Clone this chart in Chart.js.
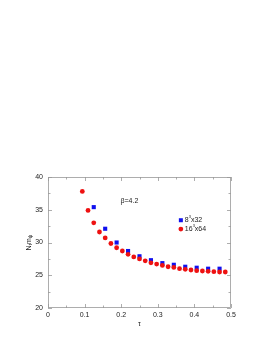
<!DOCTYPE html>
<html>
<head>
<meta charset="utf-8">
<script src="https://cdn.jsdelivr.net/npm/chart.js@4.4.1/dist/chart.umd.min.js"></script>
<style>
  html, body { margin: 0; padding: 0; background: #fff; }
  #wrap { width: 278px; height: 360px; }
</style>
</head>
<body>
<div id="wrap"><canvas id="myGraph" width="278" height="360"></canvas></div>
<script>
// tau = t / Nt
const tauSmall = [0.125, 0.15625, 0.1875, 0.21875, 0.25, 0.28125, 0.3125, 0.34375, 0.375, 0.40625, 0.4375, 0.46875];
const mSmall = [35.4, 32.1, 30.0, 28.7, 27.9, 27.3, 26.85, 26.6, 26.3, 26.15, 26.0, 26.0];

const tauLarge = [0.09375, 0.109375, 0.125, 0.140625, 0.15625, 0.171875, 0.1875, 0.203125, 0.21875, 0.234375,
    0.25, 0.265625, 0.28125, 0.296875, 0.3125, 0.328125, 0.34375, 0.359375, 0.375, 0.390625,
    0.40625, 0.421875, 0.4375, 0.453125, 0.46875, 0.484375];
const mLarge = [37.8, 34.9, 33.0, 31.6, 30.7, 29.85, 29.2, 28.7, 28.2, 27.8,
    27.5, 27.2, 26.9, 26.7, 26.5, 26.3, 26.2, 26.0, 25.9, 25.8,
    25.7, 25.65, 25.6, 25.55, 25.5, 25.5];

const xTicks = [0, 0.1, 0.2, 0.3, 0.4, 0.5];
const yTicks = [20, 25, 30, 35, 40];

const font = '"Liberation Sans", Arial, sans-serif';

function toPoints(xs, ys) {
    return xs.map((x, i) => ({ x: x, y: ys[i] }));
}

// frame, inward ticks, labels
const framePlugin = {
    id: 'frame',
    afterDraw(chart) {
        const ctx = chart.ctx;
        const a = chart.chartArea;
        const xs = chart.scales.x;
        const ys = chart.scales.y;
        ctx.save();
        ctx.strokeStyle = '#999';
        ctx.lineWidth = 0.8;
        ctx.strokeRect(a.left + 0.5, a.top + 0.5, a.right - a.left - 1, a.bottom - a.top - 1);
        ctx.beginPath();
        for (let v = 0; v <= 0.5001; v += 0.05) {
            const px = Math.round(xs.getPixelForValue(v)) + 0.5;
            const big = Math.abs(v * 10 - Math.round(v * 10)) < 1e-6;
            const len = big ? 4 : 2.5;
            ctx.moveTo(px, a.bottom);
            ctx.lineTo(px, a.bottom - len);
            ctx.moveTo(px, a.top);
            ctx.lineTo(px, a.top + len);
        }
        for (let v = 20; v <= 40.001; v += 2.5) {
            const py = Math.round(ys.getPixelForValue(v)) + 0.5;
            const big = v % 5 === 0;
            const len = big ? 4 : 2.5;
            ctx.moveTo(a.left, py);
            ctx.lineTo(a.left + len, py);
            ctx.moveTo(a.right, py);
            ctx.lineTo(a.right - len, py);
        }
        ctx.stroke();

        ctx.fillStyle = '#222';
        ctx.font = '7px ' + font;
        ctx.textAlign = 'center';
        ctx.textBaseline = 'middle';
        ctx.fillText('\u03c4', xs.getPixelForValue(0.25), a.bottom + 16);

        // y title N_t m_psi
        ctx.save();
        ctx.translate(a.left - 19, ys.getPixelForValue(30));
        ctx.rotate(-Math.PI / 2);
        ctx.textAlign = 'left';
        const parts = [['N', 0], ['t', 1], ['m', 0], ['\u03c8', 1]];
        let w = 0;
        parts.forEach(p => {
            ctx.font = (p[1] ? '5px ' : '7px ') + font;
            w += ctx.measureText(p[0]).width;
        });
        let cx = -w / 2;
        parts.forEach(p => {
            ctx.font = (p[1] ? '5px ' : '7px ') + font;
            ctx.fillText(p[0], cx, p[1] ? 2 : 0);
            cx += ctx.measureText(p[0]).width;
        });
        ctx.restore();

        // beta label
        ctx.textAlign = 'left';
        ctx.font = '7px ' + font;
        ctx.fillText('\u03b2=4.2', xs.getPixelForValue(0.198), ys.getPixelForValue(36.3));

        // legend
        const lx = xs.getPixelForValue(0.363);
        const ly1 = ys.getPixelForValue(33.4);
        const ly2 = ys.getPixelForValue(32.05);
        ctx.fillStyle = '#1010ee';
        ctx.fillRect(lx - 2, ly1 - 2, 4, 4);
        ctx.fillStyle = '#ee1111';
        ctx.beginPath();
        ctx.arc(lx, ly2, 2.4, 0, Math.PI * 2);
        ctx.fill();
        ctx.fillStyle = '#222';
        function sup(txt, base, rest, x, y) {
            ctx.font = '7px ' + font;
            ctx.fillText(base, x, y);
            let x2 = x + ctx.measureText(base).width;
            ctx.font = '4px ' + font;
            ctx.fillText(txt, x2, y - 3);
            x2 += ctx.measureText(txt).width;
            ctx.font = '7px ' + font;
            ctx.fillText(rest, x2, y);
        }
        sup('3', '8', 'x32', lx + 4, ly1);
        sup('3', '16', 'x64', lx + 4, ly2);
        ctx.restore();
    }
};

const ctx = document.getElementById('myGraph').getContext('2d');
const data = {
    datasets: [{
        label: '16^3x64',
        data: toPoints(tauLarge, mLarge),
        showLine: false,
        pointStyle: 'circle',
        pointRadius: 2.4,
        backgroundColor: '#ee1111',
        borderWidth: 0,
        order: 0,
    }, {
        label: '8^3x32',
        data: toPoints(tauSmall, mSmall),
        showLine: false,
        pointStyle: 'rect',
        pointRadius: 2.9,
        backgroundColor: '#1010ee',
        borderWidth: 0,
        order: 1,
    }]
};

let myChart = new Chart(ctx, {
    type: 'scatter',
    data: data,
    options: {
        responsive: false,
        animation: false,
        events: [],
        layout: { padding: { left: 0, right: 47, top: 177, bottom: 0 } },
        plugins: { legend: { display: false }, tooltip: { enabled: false } },
        scales: {
            x: {
                type: 'linear',
                min: 0,
                max: 0.5,
                afterFit: s => { s.height = 52; },
                afterBuildTicks: s => { s.ticks = xTicks.map(v => ({ value: v })); },
                grid: { display: false, drawTicks: false },
                border: { display: false },
                ticks: {
                    color: '#222',
                    font: { family: font, size: 7 },
                    padding: 3,
                    maxRotation: 0,
                    callback: v => String(Math.round(v * 10) / 10),
                },
            },
            y: {
                type: 'linear',
                min: 20,
                max: 40,
                afterFit: s => { s.width = 48; },
                afterBuildTicks: s => { s.ticks = yTicks.map(v => ({ value: v })); },
                grid: { display: false, drawTicks: false },
                border: { display: false },
                ticks: {
                    color: '#222',
                    font: { family: font, size: 7 },
                    padding: 5,
                },
            },
        },
    },
    plugins: [framePlugin],
});
</script>
</body>
</html>
